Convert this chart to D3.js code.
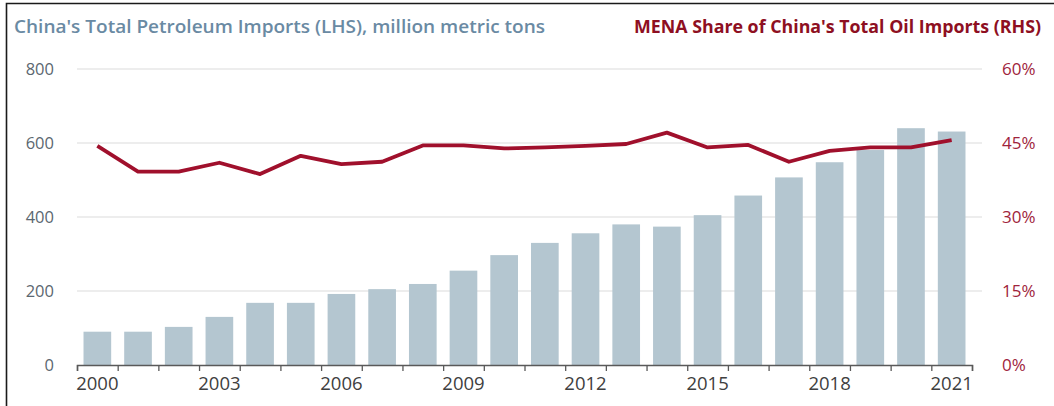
<!DOCTYPE html>
<html>
<head>
<meta charset="utf-8">
<script src="https://cdn.jsdelivr.net/npm/d3@7"></script>
<style>
  body { margin: 0; background: #fff; }
  svg { display: block; font-family: 'Open Sans', sans-serif; }
</style>
</head>
<body>
<svg id="chart" width="1054" height="406"></svg>
<script>
// values
const years = d3.range(2000, 2022);
const imports = [90, 90, 103, 130, 168, 168, 192, 205, 219, 255, 297, 330,
                 356, 380, 374, 405, 458, 507, 548, 581, 640, 631];
const menaShare = [44.4, 39.2, 39.2, 41.0, 38.7, 42.4, 40.7, 41.2, 44.5, 44.5, 43.9, 44.1,
                   44.4, 44.8, 47.1, 44.1, 44.6, 41.2, 43.4, 44.1, 44.1, 45.6];
const leftTicks = [0, 200, 400, 600, 800];
const rightTicks = [0, 15, 30, 45, 60];
const labelYears = [2000, 2003, 2006, 2009, 2012, 2015, 2018, 2021];

const svg = d3.select('#chart');

let margin = { left: 77, right: 82, top: 69, bottom: 41 };
let width = 1054, height = 406;
let plotRight = width - margin.right;   // end of the x axis
let gridRight = plotRight + 10;         // gridlines run a bit past the axis

let x = d3.scaleBand()
  .domain(years)
  .range([margin.left, plotRight])
  .paddingInner(0.32)
  .paddingOuter(0.16);

let xEdge = d3.scaleLinear()
  .domain([0, years.length])
  .range([margin.left, plotRight]);

let yL = d3.scaleLinear().domain([0, 800]).range([height - margin.bottom, margin.top]);
let yR = d3.scaleLinear().domain([0, 60]).range([height - margin.bottom, margin.top]);

// frame lines (left and top edge of the screenshot)
svg.append('path')
  .attr('d', `M6.5,${height} V3.5 H${width}`)
  .attr('fill', 'none')
  .attr('stroke', '#1a1a1a')
  .attr('stroke-width', 1.6);

// titles
svg.append('text')
  .attr('x', 14).attr('y', 33)
  .attr('fill', '#6a8aa3')
  .attr('font-size', 17.5).attr('font-weight', 600)
  .attr('textLength', 531).attr('lengthAdjust', 'spacingAndGlyphs')
  .text("China's Total Petroleum Imports (LHS), million metric tons");

svg.append('text')
  .attr('x', 634).attr('y', 33)
  .attr('fill', '#8e0f22')
  .attr('font-size', 17.5).attr('font-weight', 700)
  .attr('textLength', 407).attr('lengthAdjust', 'spacingAndGlyphs')
  .text("MENA Share of China's Total Oil Imports (RHS)");

// gridlines
svg.append('g')
  .selectAll('line').data(leftTicks.filter(d => d > 0)).enter().append('line')
  .attr('x1', margin.left).attr('x2', gridRight)
  .attr('y1', d => yL(d)).attr('y2', d => yL(d))
  .attr('stroke', '#dcdcdc')
  .attr('stroke-width', 1.2);

// bars
svg.append('g')
  .attr('fill', '#b4c6d0')
  .selectAll('rect').data(imports).enter().append('rect')
  .attr('x', (d, i) => x(years[i]))
  .attr('y', d => yL(d))
  .attr('width', x.bandwidth())
  .attr('height', d => yL(0) - yL(d));

// x axis: ticks at band edges, labels every third year
let xTicks = svg.append('g')
  .attr('transform', `translate(0,${yL(0)})`)
  .call(d3.axisBottom(xEdge).tickValues(d3.range(years.length + 1)).tickFormat('').tickSize(6).tickSizeOuter(6));
xTicks.select('.domain').attr('stroke', '#595959').attr('stroke-width', 1.5);
xTicks.selectAll('.tick line').attr('stroke', '#595959').attr('stroke-width', 1.3);

let xLabels = svg.append('g')
  .attr('transform', `translate(0,${yL(0) + 9})`)
  .call(d3.axisBottom(x).tickValues(labelYears).tickSize(0).tickFormat(d3.format('d')));
xLabels.select('.domain').remove();
xLabels.selectAll('text').attr('font-size', 18.5).attr('fill', '#404040')
  .attr('font-family', "'Open Sans', sans-serif");

// left axis labels
let yAxisL = svg.append('g')
  .attr('transform', `translate(${margin.left - 20},0)`)
  .call(d3.axisLeft(yL).tickValues(leftTicks).tickSize(0));
yAxisL.select('.domain').remove();
yAxisL.selectAll('text').attr('font-size', 16.5).attr('fill', '#5b6770')
  .attr('font-family', "'Open Sans', sans-serif");

// right axis labels
let yAxisR = svg.append('g')
  .attr('transform', `translate(${gridRight + 17},0)`)
  .call(d3.axisRight(yR).tickValues(rightTicks).tickSize(0).tickFormat(d => d + '%'));
yAxisR.select('.domain').remove();
yAxisR.selectAll('text').attr('font-size', 17).attr('fill', '#a0243c')
  .attr('font-family', "'Open Sans', sans-serif");

// MENA share line
let line = d3.line()
  .x((d, i) => x(years[i]) + x.bandwidth() / 2)
  .y(d => yR(d));

svg.append('path')
  .datum(menaShare)
  .attr('d', line)
  .attr('fill', 'none')
  .attr('stroke', '#a0102c')
  .attr('stroke-width', 3.8)
  .attr('stroke-linejoin', 'round');
</script>
</body>
</html>
